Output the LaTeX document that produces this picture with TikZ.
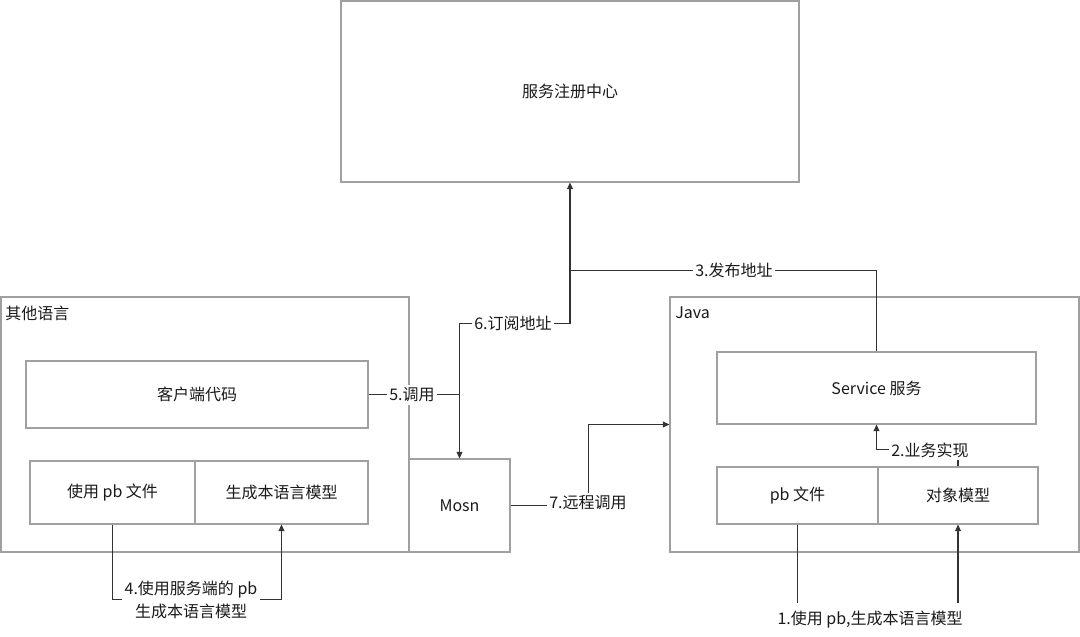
\documentclass[tikz,border=0pt]{standalone}
\usepackage{fontspec}
\setmainfont{Noto Sans CJK SC}
\usetikzlibrary{arrows.meta,fit,calc}
\definecolor{boxgray}{HTML}{A0A0A0}
\definecolor{linegray}{HTML}{333333}
\definecolor{txt}{HTML}{1A1A1A}
\begin{document}
\begin{tikzpicture}[x=0.75pt,y=-0.75pt,
  font=\fontsize{12pt}{17pt}\selectfont,
  box/.style={draw=boxgray,line width=0.8pt,inner sep=0pt},
  conn/.style={draw=linegray,line width=0.8pt},
  arr/.style={conn,-{Triangle[length=5pt,width=4.5pt]}},
  lbl/.style={fill=white,inner sep=2pt,text=txt},
  ttl/.style={text=txt,inner sep=0pt}]
\path[use as bounding box] (0,0) rectangle (1080,636);
% boxes
\node[box,fit={(341,1)(799,182)}] (reg) {};
\node[ttl] at (reg.center) {服务注册中心};
\node[box,fit={(1,297)(409,552)}] (others) {};
\node[ttl,anchor=west] at (5,313) {其他语言};
\node[box,fit={(26,361)(368,428)}] (client) {};
\node[ttl] at (client.center) {客户端代码};
\node[box,fit={(30,461)(195,524)}] (pbL) {};
\node[ttl] at (pbL.center) {使用 pb 文件};
\node[box,fit={(195,461)(368,524)}] (gen) {};
\node[ttl] at (gen.center) {生成本语言模型};
\node[box,fit={(409,459)(510,552)}] (mosn) {};
\node[ttl] at (mosn.center) {Mosn};
\node[box,fit={(670,297)(1079,552)}] (java) {};
\node[ttl,anchor=west] at (675,313) {Java};
\node[box,fit={(717,352)(1036,424)}] (svc) {};
\node[ttl] at (svc.center) {Service 服务};
\node[box,fit={(717,467)(878,524)}] (pbR) {};
\node[ttl] at (pbR.center) {pb 文件};
\node[box,fit={(878,467)(1038,524)}] (obj) {};
\node[ttl] at (obj.center) {对象模型};
% junction of connectors 3 and 6
\coordinate (j) at ($(reg.south)+(0,88)$);
% connectors
\draw[arr] (svc.north) |- (j) -- (reg.south);
\draw[arr] (j) -- ++(0,53) -| (mosn.north);
\draw[conn] (client.east) -- (client.east -| mosn.north);
\draw[arr] (mosn.east) -- ++(78,0) |- (java.west);
\draw[arr] (obj.north) -- ++(0,-17) -| (svc.south);
\draw[arr] (pbR.south) -- ++(0,96) -| (obj.south);
\draw[arr] (pbL.south) -- ++(0,75) -| (gen.south);
% connector labels
\node[lbl] (l3) at (734,270) {3.发布地址};
\node[lbl] (l6) at (513,323) {6.订阅地址};
\node[lbl] (l5) at (412,395) {5.调用};
\node[lbl] (l7) at (588,503) {7.远程调用};
\node[lbl] (l2) at (930,450) {2.业务实现};
\node[lbl,minimum height=25pt] (l1) at (870,620) {1.使用 pb,生成本语言模型};
\node[lbl,align=center] (l4) at (191,600) {4.使用服务端的 pb\\生成本语言模型};
\end{tikzpicture}
\end{document}
